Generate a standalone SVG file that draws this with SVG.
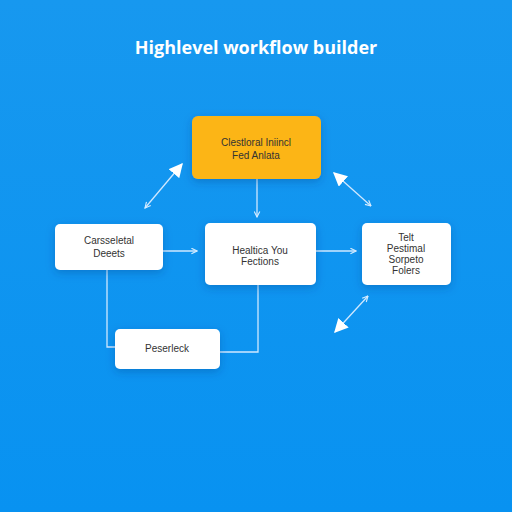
<svg xmlns="http://www.w3.org/2000/svg" width="512" height="512" viewBox="0 0 512 512">
<defs>
<linearGradient id="bg" x1="0" y1="0" x2="0" y2="1">
<stop offset="0" stop-color="#1798ef"/>
<stop offset="1" stop-color="#0892f1"/>
</linearGradient>
<filter id="sh" x="-20%" y="-20%" width="140%" height="160%">
<feDropShadow dx="0" dy="3" stdDeviation="4" flood-color="#003a80" flood-opacity="0.3"/>
</filter>
<marker id="open" viewBox="0 0 10 10" refX="9" refY="5" markerWidth="7" markerHeight="7" orient="auto-start-reverse" markerUnits="userSpaceOnUse">
<path d="M1,1 L9,5 L1,9" fill="none" stroke="#d6ecff" stroke-width="1.6"/>
</marker>
<marker id="solid" viewBox="0 0 10 10" refX="9" refY="5" markerWidth="14" markerHeight="14" orient="auto-start-reverse" markerUnits="userSpaceOnUse">
<path d="M0,0 L10,5 L0,10 Z" fill="#ffffff"/>
</marker>
<style>
.box{fill:#ffffff;filter:url(#sh)}
.yel{fill:#fcb514;filter:url(#sh)}
.t{font-family:"Liberation Sans",Arial,sans-serif;font-size:10px;fill:#333;text-anchor:middle}
.ln{fill:none;stroke:#cfe8ff;stroke-width:1.3}
</style>
</defs>
<rect width="512" height="512" fill="url(#bg)"/>
<text x="256" y="54" font-family="'Open Sans','Liberation Sans',sans-serif" font-weight="bold" font-size="18" fill="#ffffff" text-anchor="middle">Highlevel workflow builder</text>
<g id="connectors">
<path class="ln" d="M257,179 V217" marker-end="url(#open)"/>
<path class="ln" d="M163,251 H197" marker-end="url(#open)"/>
<path class="ln" d="M316,251 H356" marker-end="url(#open)"/>
<path class="ln" d="M107,270 V347 H115"/>
<path class="ln" d="M220,352 H258 V285"/>
<path class="ln" d="M145,208 L182,164" marker-start="url(#open)" marker-end="url(#solid)"/>
<path class="ln" d="M334,173 L371,206" marker-start="url(#solid)" marker-end="url(#open)"/>
<path class="ln" d="M368,296 L335,332" marker-start="url(#open)" marker-end="url(#solid)"/>
</g>
<g id="n-yellow">
<rect class="yel" x="192" y="116" width="129" height="63" rx="6"/>
<text class="t" x="256" y="146" fill="#3a2a00">Clestloral Iniincl</text>
<text class="t" x="256" y="159">Fed Anlata</text>
</g>
<g id="n-left">
<rect class="box" x="55" y="224" width="108" height="46" rx="5"/>
<text class="t" x="109" y="244">Carsseletal</text>
<text class="t" x="109" y="257">Deeets</text>
</g>
<g id="n-middle">
<rect class="box" x="205" y="223" width="111" height="62" rx="5"/>
<text class="t" x="260" y="254">Healtica You</text>
<text class="t" x="260" y="265">Fections</text>
</g>
<g id="n-right">
<rect class="box" x="362" y="223" width="89" height="62" rx="5"/>
<text class="t" x="406" y="241">Telt</text>
<text class="t" x="406" y="252">Pestimal</text>
<text class="t" x="406" y="263">Sorpeto</text>
<text class="t" x="406" y="274">Folers</text>
</g>
<g id="n-bottom">
<rect class="box" x="115" y="329" width="105" height="40" rx="5"/>
<text class="t" x="167" y="352">Peserleck</text>
</g>
</svg>
